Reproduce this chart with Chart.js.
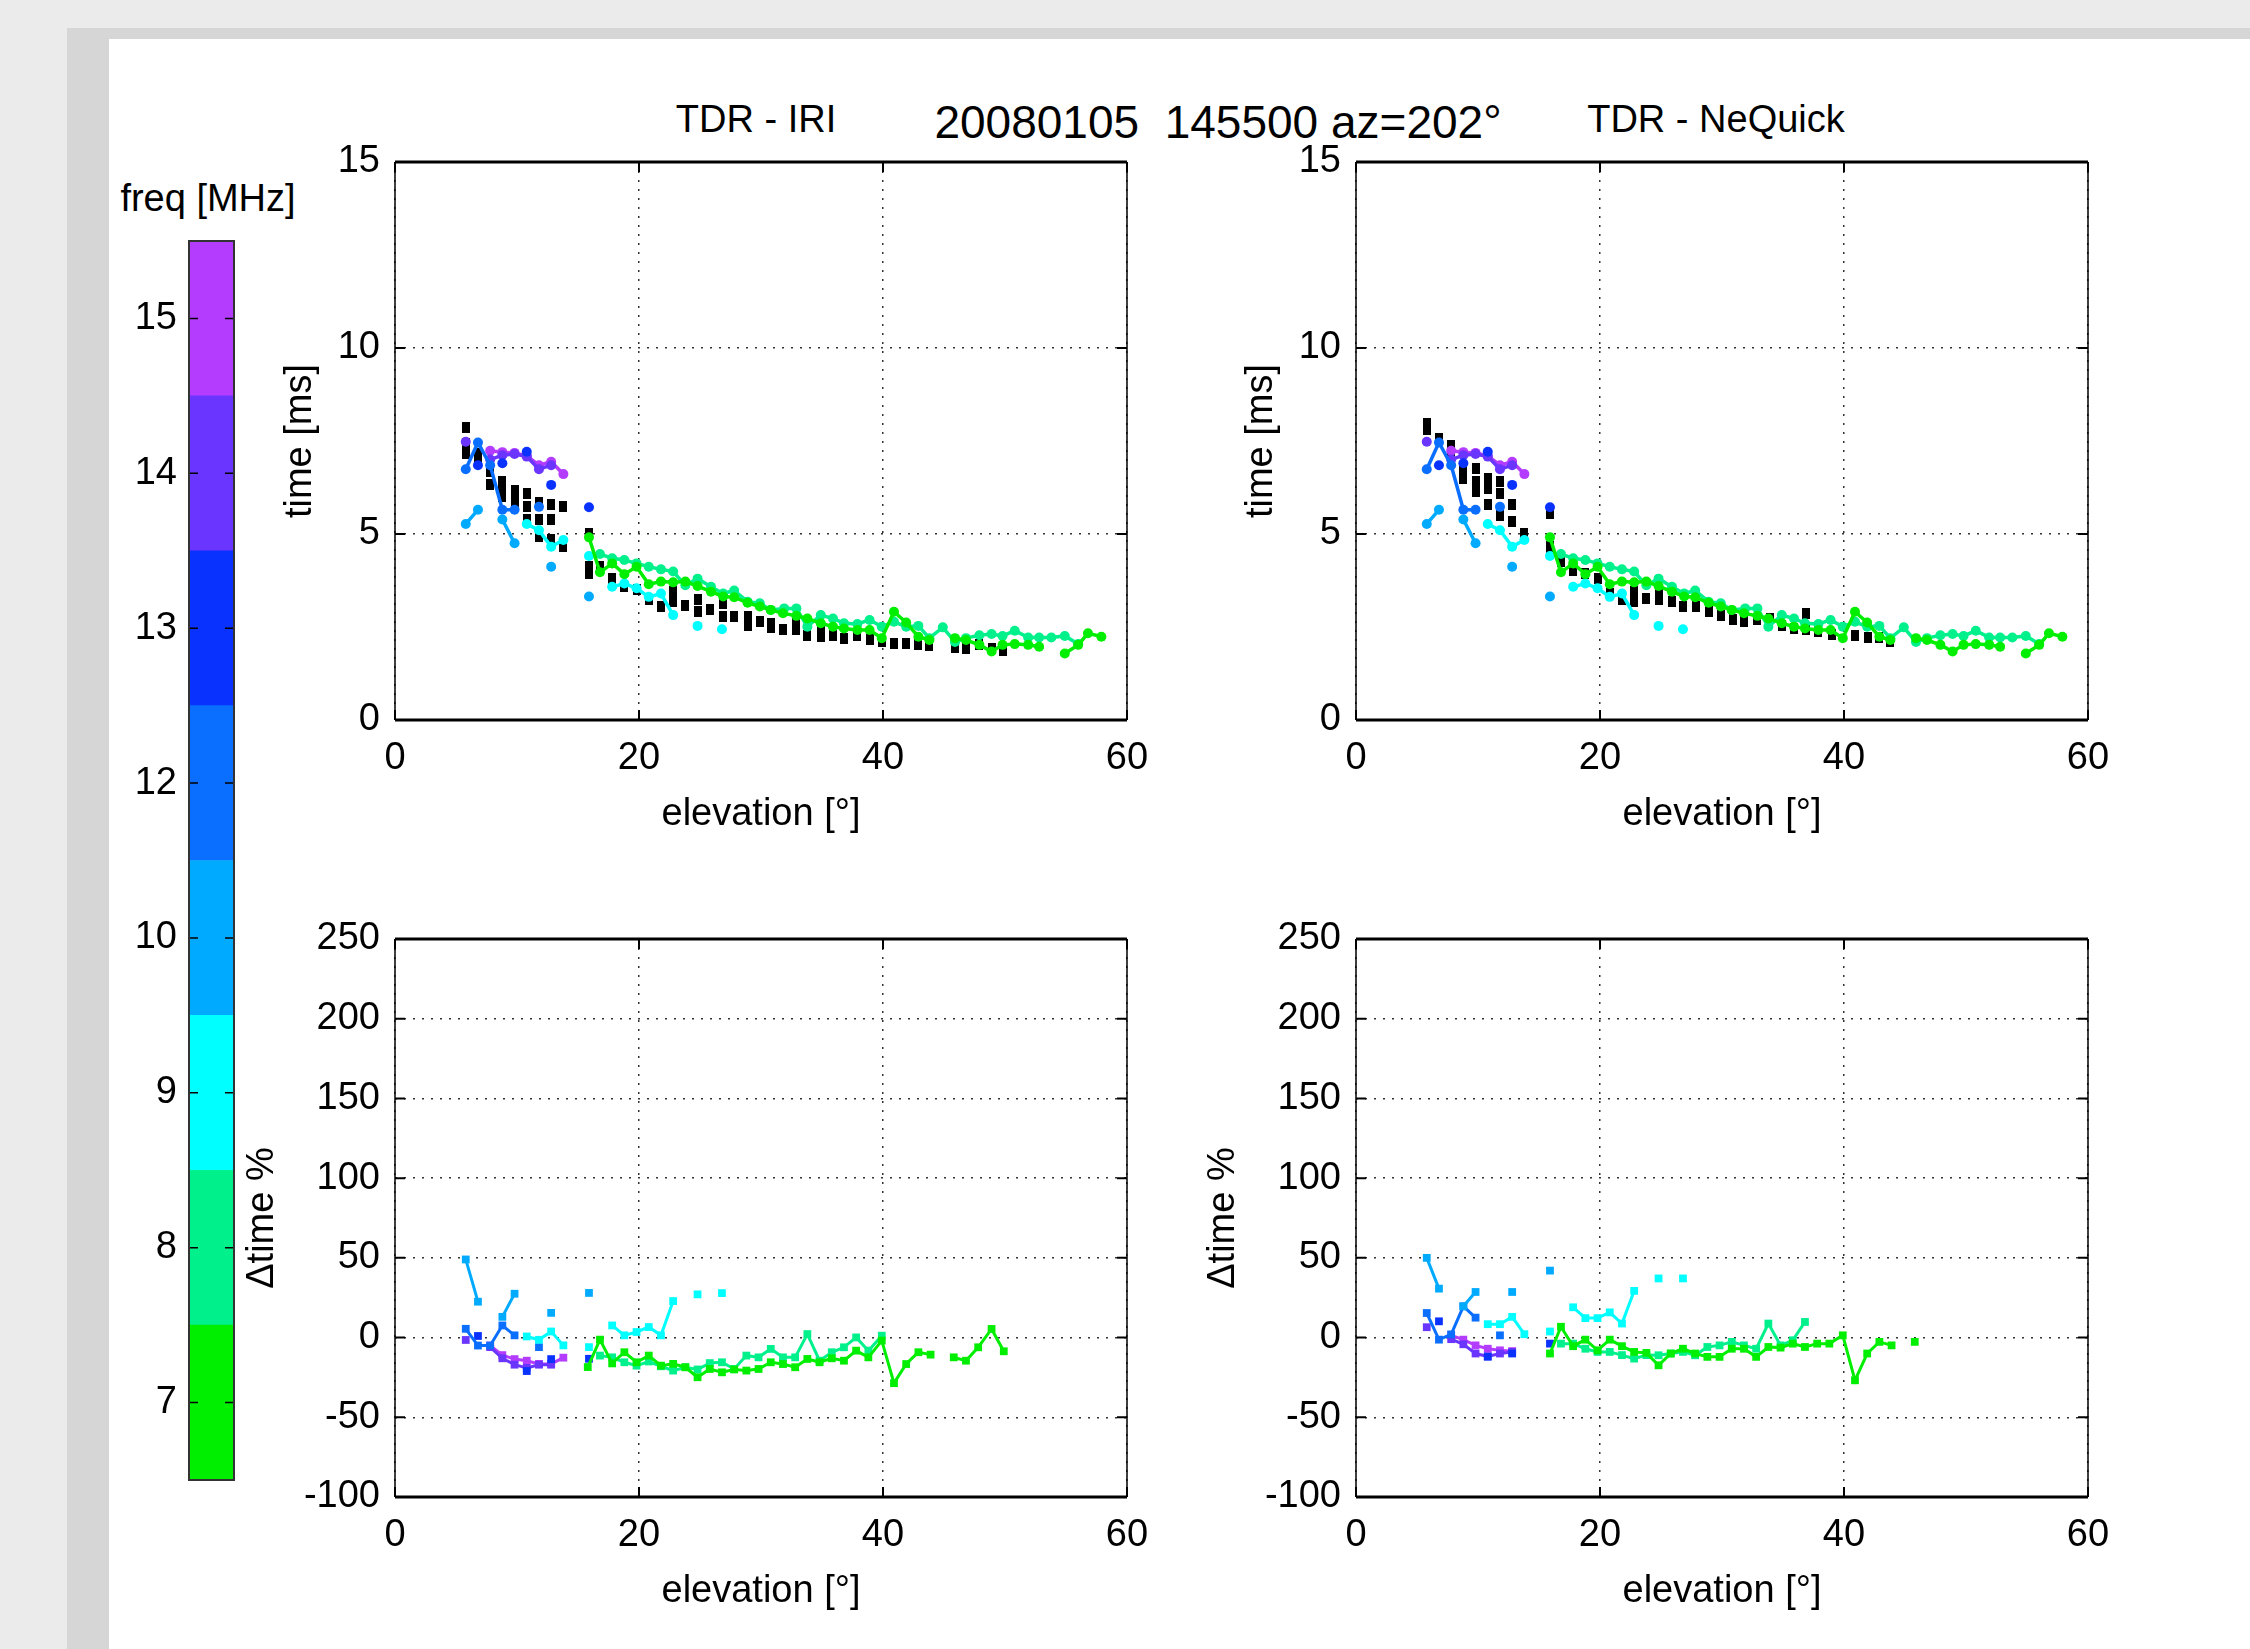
<!DOCTYPE html>
<html>
<head>
<meta charset="utf-8">
<script src="https://cdn.jsdelivr.net/npm/chart.js@4.4.0/dist/chart.umd.min.js"></script>
<style>
  html, body { margin: 0; padding: 0; }
  body { width: 2250px; height: 1649px; background: #ebebeb; position: relative; overflow: hidden;
         font-family: "Liberation Sans", Arial, Helvetica, sans-serif; }
  #band { position: absolute; left: 67px; top: 28px; right: 0; bottom: 0; background: #d6d6d6; }
  #panel { position: absolute; left: 109px; top: 39px; right: 0; bottom: 0; background: #fff; }
  canvas { position: absolute; }
  .lbl { position: absolute; white-space: nowrap; color: #000; transform: translate(-50%, -50%); }
</style>
</head>
<body>
<div id="band"></div>
<div id="panel"></div>
<div class="lbl" style="left:756px;top:119px;font-size:38px">TDR - IRI</div>
<div class="lbl" style="left:1218px;top:122px;font-size:46px">20080105&nbsp; 145500 az=202°</div>
<div class="lbl" style="left:1716px;top:119px;font-size:38px">TDR - NeQuick</div>
<div class="lbl" style="left:208px;top:198px;font-size:38px">freq [MHz]</div>

<canvas id="tl" width="889" height="705" style="left:278px;top:132px"></canvas>
<canvas id="tr" width="889" height="705" style="left:1239px;top:132px"></canvas>
<canvas id="bl" width="927" height="705" style="left:240px;top:909px"></canvas>
<canvas id="br" width="927" height="705" style="left:1201px;top:909px"></canvas>
<canvas id="cb" width="139" height="1289" style="left:100px;top:216px"></canvas>

<script>
// frequency bands of the colour bar, bottom to top
const freqs = ['7', '8', '9', '10', '12', '13', '14', '15']
const freqColors = ['#00ee00', '#00f08c', '#00ffff', '#00aaff', '#0a6eff', '#0a32ff', '#6a35ff', '#b43cff']

// measured time [ms] vs elevation [deg] (same in both upper panels); null = gap
const obs7 = [[15.9,4.91],[16.8,3.97],[17.8,4.21],[18.8,3.92],[19.8,4.12],[20.8,3.65],[21.8,3.72],[22.8,3.7],[23.8,3.72],[24.8,3.6],[25.9,3.45],[26.9,3.32],[27.8,3.3],[28.9,3.15],[29.9,3.05],[30.8,2.96],[31.8,2.87],[32.9,2.8],[33.8,2.73],[34.9,2.6],[35.9,2.51],[36.8,2.46],[37.9,2.42],[38.9,2.42],[39.9,2.2],[40.9,2.91],[41.9,2.62],[42.9,2.24],[43.8,2.15],[44.8,null],[45.9,2.2],[46.8,2.15],[47.9,2.02],[48.9,1.84],[49.8,2.02],[50.8,2.04],[51.9,2.02],[52.8,1.97],[53.8,null],[54.9,1.79],[56.0,2.02],[56.8,2.33],[57.9,2.24]]
const obs8 = [[16.8,4.46],[17.8,4.35],[18.8,4.3],[19.8,4.21],[20.8,4.12],[21.8,4.05],[22.8,3.99],[23.8,3.62],[24.8,3.8],[25.9,3.58],[26.9,3.4],[27.8,3.48],[28.9,3.18],[29.9,3.14],[30.8,2.96],[31.9,3.0],[32.9,3.0],[33.8,2.51],[34.9,2.82],[35.9,2.73],[36.8,2.6],[37.9,2.58],[38.9,2.69],[39.9,2.51],[40.9,2.64],[41.9,2.51],[42.9,2.53],[43.8,2.2],[44.9,2.49],[45.9,2.1],[46.8,2.2],[47.9,2.28],[48.9,2.31],[49.8,2.26],[50.8,2.4],[51.9,2.22],[52.8,2.22],[53.8,2.22],[54.9,2.26],[56.0,2.04]]
const obs9 = [[10.8,5.27],[11.8,5.1],[12.8,4.66],[13.8,4.84],[14.8,null],[15.9,4.41],[16.8,null],[17.8,3.58],[18.8,3.67],[19.8,3.54],[20.8,3.31],[21.8,3.4],[22.8,2.82],[23.8,null],[24.8,2.53],[25.8,null],[26.8,2.44]]
const obs10 = [[5.8,5.27],[6.8,5.65],[7.8,null],[8.8,5.39],[9.8,4.75],[10.8,null],[12.8,4.12],[13.8,null],[15.9,3.32]]
const obs12 = [[5.8,6.74],[6.8,7.46],[7.8,6.85],[8.8,5.65],[9.8,5.65],[10.8,null],[11.8,5.73]]
const obs13 = [[6.8,6.85],[7.8,null],[8.8,6.9],[9.8,null],[10.8,7.21],[11.8,null],[12.8,6.32],[13.8,null],[15.9,5.72]]
const obs14 = [[5.8,7.48],[6.8,null],[7.8,7.0],[8.8,7.12],[9.8,7.15],[10.8,7.08],[11.8,6.74],[12.8,6.85]]
const obs15 = [[7.8,7.24],[8.8,7.2],[9.8,7.18],[10.8,7.1],[11.8,6.85],[12.8,6.94],[13.8,6.61]]

// model times (black squares)
const iriTime = [[5.8,7.87],[5.8,7.44],[5.8,7.17],[6.8,7.17],[6.8,7.0],[7.8,6.68],[7.8,6.32],[8.8,6.41],[8.8,6.18],[8.8,6.0],[9.8,6.18],[9.8,5.96],[9.8,5.73],[10.8,6.09],[10.8,5.73],[10.8,5.38],[11.8,5.84],[11.8,5.38],[11.8,4.93],[12.8,5.78],[12.8,5.38],[12.8,4.84],[13.8,5.73],[13.8,4.66],[15.9,5.02],[15.9,4.12],[15.9,3.94],[16.8,4.12],[17.8,3.81],[18.8,3.58],[19.8,3.5],[20.8,3.23],[21.8,3.05],[22.8,3.45],[22.8,3.18],[23.8,3.09],[24.8,3.23],[24.8,2.91],[25.8,2.97],[26.9,3.14],[26.9,2.78],[27.8,2.78],[28.9,2.78],[28.9,2.55],[29.9,2.64],[30.8,2.6],[30.8,2.5],[31.8,2.42],[32.9,2.6],[32.9,2.42],[33.8,2.28],[34.9,2.46],[34.9,2.24],[35.9,2.28],[36.8,2.2],[37.9,2.26],[38.9,2.17],[39.9,2.1],[40.9,2.06],[41.9,2.06],[42.9,2.04],[43.8,1.99],[45.9,1.95],[46.8,1.93],[47.9,2.02],[48.9,1.93],[49.8,1.86]]
const neqTime = [[5.8,7.97],[5.8,7.8],[6.8,7.57],[7.8,7.37],[7.8,7.2],[8.8,6.72],[8.8,6.5],[9.8,6.77],[9.8,6.41],[9.8,6.14],[10.8,6.5],[10.8,6.23],[10.8,5.78],[11.8,6.41],[11.8,6.09],[11.8,5.51],[12.8,5.78],[12.8,5.33],[13.8,5.02],[15.9,5.56],[15.9,4.66],[15.9,4.5],[16.8,4.26],[17.8,4.03],[18.8,3.95],[19.8,3.81],[20.8,3.4],[21.8,3.23],[22.8,3.45],[22.8,3.18],[23.8,3.27],[24.8,3.45],[24.8,3.23],[25.9,3.18],[26.8,3.05],[27.9,3.05],[28.9,2.91],[29.9,2.82],[30.9,2.69],[31.8,2.64],[32.9,2.69],[33.9,2.73],[34.9,2.53],[35.9,2.46],[36.9,2.85],[36.9,2.42],[37.9,2.37],[39.0,2.31],[40.9,2.26],[42.0,2.22],[42.9,2.22],[43.8,2.1]]

// relative difference [%], TDR vs IRI
const dIri7 = [[15.8,-18.5],[16.8,-1.3],[17.8,-16.2],[18.8,-9.2],[19.8,-15.5],[20.8,-11.3],[21.8,-17.6],[22.8,-16.5],[23.8,-18.6],[24.8,-24.9],[25.8,-19.7],[26.8,-21.8],[27.8,-20],[28.8,-20.7],[29.8,-19.7],[30.8,-15.5],[31.8,-16.6],[32.8,-18.6],[33.8,-13.4],[34.8,-15.5],[35.8,-13],[36.8,-14.5],[37.8,-8.2],[38.8,-12.4],[39.9,-1.9],[40.9,-28.6],[41.9,-16.6],[42.9,-9.2],[43.9,-10.7],[44.9,null],[45.8,-12.4],[46.8,-14.5],[47.8,-6.1],[48.9,5.4],[49.9,-8.6]]
const dIri8 = [[16.8,-11.3],[17.8,-12.4],[18.8,-15.5],[19.8,-17.6],[20.8,-15],[21.8,-18],[22.8,-20.7],[23.8,-18.6],[24.8,-20],[25.8,-16],[26.8,-15.5],[27.8,-19.7],[28.8,-11.3],[29.8,-12.4],[30.8,-7.1],[31.8,-12.4],[32.8,-12.4],[33.8,2.2],[34.8,-14.5],[35.8,-9.2],[36.8,-6.1],[37.8,0.1],[38.8,-8.2],[39.9,1.2]]
const dIri9 = [[10.8,0.7],[11.8,-1.4],[12.8,3.8],[13.8,-4.9],[14.8,null],[15.9,-6],[16.8,null],[17.8,7.6],[18.8,1.4],[19.8,3.5],[20.8,6.6],[21.8,1.4],[22.8,22.9],[23.8,null],[24.8,27.1],[25.8,null],[26.8,27.9]]
const dIri10 = [[5.8,49],[6.8,22.5],[7.8,null],[8.8,13],[9.8,27.5],[10.8,null],[12.8,15.5],[13.8,null],[15.9,28]]
const dIri12 = [[5.8,5.5],[6.8,-5],[7.8,-5],[8.8,7.6],[9.8,1.4],[10.8,null],[11.8,-6]]
const dIri13 = [[6.8,1],[7.8,null],[10.8,-21],[11.8,null],[12.8,-13.5],[13.8,null],[15.9,-13.3]]
const dIri14 = [[5.8,-1.5],[6.8,null],[7.8,-6],[8.8,-13],[9.8,-17],[10.8,-19],[11.8,-17],[12.8,-17]]
const dIri15 = [[7.8,-5],[8.8,-11],[9.8,-13.5],[10.8,-14.5],[11.8,-16.5],[12.8,-16.5],[13.8,-12.6]]

// relative difference [%], TDR vs NeQuick
const dNeq7 = [[15.9,-10],[16.8,6.8],[17.8,-5.4],[18.8,-1.3],[19.8,-8],[20.8,-1.3],[21.8,-5.4],[22.8,-9],[23.8,-9.6],[24.8,-17.4],[25.8,-10],[26.8,-7],[27.8,-10],[28.8,-12.1],[29.8,-12.1],[30.8,-7],[31.8,-7],[32.8,-12.1],[33.8,-5.9],[34.8,-6.3],[35.8,-3.8],[36.8,-5.9],[37.8,-3.8],[38.8,-3.8],[39.9,1.4],[40.9,-26.8],[41.9,-10],[42.9,-2.7],[43.9,-4.9],[44.9,null],[45.8,-2.7]]
const dNeq8 = [[16.8,-3.8],[17.8,-3.8],[18.8,-7],[19.8,-9],[20.8,-9],[21.8,-11],[22.8,-13.2],[23.8,-11],[24.8,-11.1],[25.8,-10],[26.8,-9],[27.8,-11.1],[28.8,-5.9],[29.8,-4.9],[30.8,-2.7],[31.8,-4.9],[32.8,-7],[33.8,8.8],[34.8,-4.9],[35.8,-1.7],[36.8,9.8]]
const dNeq9 = [[10.8,8.4],[11.8,8.4],[12.8,13],[13.8,2.1],[14.8,null],[15.9,3.8],[16.8,null],[17.8,19],[18.8,12.2],[19.8,12.2],[20.8,15.8],[21.8,8.8],[22.8,29.3],[23.8,null],[24.8,37.1],[25.8,null],[26.8,37.1]]
const dNeq10 = [[5.8,50],[6.8,30.7],[7.8,null],[8.8,19.6],[9.8,28.6],[10.8,null],[12.8,28.6],[13.8,null],[15.9,42]]
const dNeq12 = [[5.8,15.4],[6.8,-1.3],[7.8,2],[8.8,19.6],[9.8,12.5],[10.8,null],[11.8,1.4]]
const dNeq13 = [[6.8,10.2],[7.8,null],[10.8,-12],[11.8,null],[12.8,-10],[13.8,null],[15.9,-3.8]]
const dNeq14 = [[5.8,6.5],[6.8,null],[7.8,-1],[8.8,-4.2],[9.8,-10],[10.8,-11.8],[11.8,-10],[12.8,-9]]
const dNeq15 = [[7.8,1.4],[8.8,-1.3],[9.8,-4.9],[10.8,-7],[11.8,-8],[12.8,-8.5]]

const obsTime = [obs7, obs8, obs9, obs10, obs12, obs13, obs14, obs15]
const dIri = [dIri7, dIri8, dIri9, dIri10, dIri12, dIri13, dIri14, dIri15]
const dNeq = [dNeq7, dNeq8, dNeq9, dNeq10, dNeq12, dNeq13, dNeq14, dNeq15]

const FONT = { family: '"Liberation Sans", Arial, Helvetica, sans-serif', size: 38 }
const toXY = arr => arr.map(([x, y]) => ({ x, y }))

// small upright black block used as the model marker
const modelMark = document.createElement('canvas')
modelMark.width = 8
modelMark.height = 11
modelMark.getContext('2d').fillRect(0, 0, 8, 11)

// keep the layout from adding label overhang to the plot area
const noOverhang = s => { s.paddingTop = 0; s.paddingBottom = 0 }

// box round the plot area with inward tick marks on all four sides
const frame = {
  id: 'frame',
  afterDatasetsDraw(chart) {
    const { ctx, chartArea: a } = chart
    const xs = chart.scales.x
    const ys = chart.scales.y
    ctx.save()
    ctx.strokeStyle = '#000'
    ctx.lineWidth = 1.5
    ctx.beginPath()
    ctx.moveTo(a.left, a.top); ctx.lineTo(a.left, a.bottom)
    ctx.moveTo(a.right, a.top); ctx.lineTo(a.right, a.bottom)
    ctx.stroke()
    ctx.lineWidth = 3
    ctx.beginPath()
    ctx.moveTo(a.left, a.top); ctx.lineTo(a.right, a.top)
    ctx.moveTo(a.left, a.bottom); ctx.lineTo(a.right, a.bottom)
    ctx.stroke()
    ctx.lineWidth = 2
    ctx.beginPath()
    xs.ticks.forEach(t => {
      const p = xs.getPixelForValue(t.value)
      ctx.moveTo(p, a.bottom); ctx.lineTo(p, a.bottom - 10)
      ctx.moveTo(p, a.top); ctx.lineTo(p, a.top + 10)
    })
    ys.ticks.forEach(t => {
      const p = ys.getPixelForValue(t.value)
      ctx.moveTo(a.left, p); ctx.lineTo(a.left + 10, p)
      ctx.moveTo(a.right, p); ctx.lineTo(a.right - 10, p)
    })
    ctx.stroke()
    ctx.restore()
  }
}

function axesOptions(yMin, yMax, yStep, yTitle, yWidth) {
  const grid = { color: '#333', lineWidth: 1.5, drawTicks: false }
  return {
    responsive: false,
    animation: false,
    layout: { padding: { top: 30, right: 40, bottom: 0, left: 0 } },
    plugins: { legend: { display: false }, tooltip: { enabled: false } },
    scales: {
      x: {
        type: 'linear', min: 0, max: 60,
        ticks: { stepSize: 20, padding: 16, color: '#000', font: FONT, maxRotation: 0 },
        grid: grid,
        border: { display: false, dash: [2, 7] },
        title: { display: true, text: 'elevation [°]', color: '#000', font: FONT, padding: 0 },
        afterFit: s => { s.height = 117 }
      },
      y: {
        type: 'linear', min: yMin, max: yMax,
        ticks: { stepSize: yStep, padding: 15, color: '#000', font: FONT },
        grid: grid,
        border: { display: false, dash: [2, 7] },
        title: { display: true, text: yTitle, color: '#000', font: FONT, padding: 0 },
        afterFit: s => { s.width = yWidth; noOverhang(s) }
      }
    }
  }
}

function timeChart(id, model) {
  const sets = obsTime.map((arr, i) => ({
    data: toXY(arr),
    showLine: true,
    borderColor: freqColors[i],
    borderWidth: 3.5,
    pointRadius: 5,
    pointBackgroundColor: freqColors[i],
    pointBorderWidth: 0,
    order: i
  }))
  sets.push({
    data: toXY(model),
    showLine: false,
    pointStyle: modelMark,
    pointRadius: 5,
    order: 99
  })
  new Chart(document.getElementById(id), {
    type: 'scatter',
    data: { datasets: sets },
    options: axesOptions(0, 15, 5, 'time [ms]', 117),
    plugins: [frame]
  })
}

function diffChart(id, series) {
  const sets = series.map((arr, i) => ({
    data: toXY(arr),
    showLine: true,
    borderColor: freqColors[i],
    borderWidth: 3,
    pointStyle: 'rect',
    pointRadius: 5.5,
    pointBackgroundColor: freqColors[i],
    pointBorderWidth: 0,
    order: i
  }))
  new Chart(document.getElementById(id), {
    type: 'scatter',
    data: { datasets: sets },
    options: axesOptions(-100, 250, 50, 'Δtime %', 155),
    plugins: [frame]
  })
}

timeChart('tl', iriTime)
timeChart('tr', neqTime)
diffChart('bl', dIri)
diffChart('br', dNeq)

// colour bar
const barFrame = {
  id: 'barFrame',
  afterDatasetsDraw(chart) {
    const { ctx, chartArea: a } = chart
    const ys = chart.scales.y
    ctx.save()
    ctx.strokeStyle = '#000'
    ctx.lineWidth = 1.5
    ctx.beginPath()
    ys.ticks.forEach(t => {
      const p = ys.getPixelForValue(t.value)
      ctx.moveTo(a.left, p); ctx.lineTo(a.left + 9, p)
      ctx.moveTo(a.right, p); ctx.lineTo(a.right - 9, p)
    })
    ctx.stroke()
    ctx.strokeStyle = '#333'
    ctx.lineWidth = 2
    ctx.strokeRect(a.left, a.top, a.right - a.left, a.bottom - a.top)
    ctx.restore()
  }
}

new Chart(document.getElementById('cb'), {
  type: 'bar',
  data: {
    labels: [''],
    datasets: freqs.map((f, i) => ({
      label: f,
      data: [1],
      backgroundColor: freqColors[i],
      borderWidth: 0,
      barPercentage: 1,
      categoryPercentage: 1
    }))
  },
  options: {
    responsive: false,
    animation: false,
    layout: { padding: { top: 25, bottom: 25, right: 5, left: 0 } },
    plugins: { legend: { display: false }, tooltip: { enabled: false } },
    scales: {
      x: { display: false, stacked: true },
      y: {
        stacked: true, min: 0, max: 8,
        afterBuildTicks: s => { s.ticks = freqs.map((f, i) => ({ value: i + 0.5 })) },
        ticks: { callback: (v, i) => freqs[i], color: '#000', font: FONT, padding: 4 },
        grid: { display: false },
        border: { display: false },
        afterFit: s => { s.width = 89; noOverhang(s) }
      }
    }
  },
  plugins: [barFrame]
})
</script>
</body>
</html>
